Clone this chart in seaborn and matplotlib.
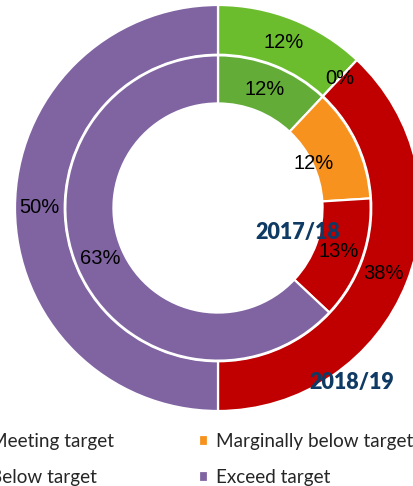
import numpy as np
import matplotlib
matplotlib.use("Agg")
import matplotlib.pyplot as plt
import seaborn as sns

categories = ["Meeting target", "Marginally below target", "Below target", "Exceed target"]
outer_2018 = [12, 0, 38, 50]   # 2018/19
inner_2017 = [12, 12, 13, 63]  # 2017/18
outer_colors = ["#6bbd2e", "#f7921e", "#c00000", "#8064a2"]
inner_colors = ["#62ac37", "#f7921e", "#c00000", "#8064a2"]

sns.set_style("white")
plt.rcParams["font.family"] = ["Liberation Sans", "DejaVu Sans"]

fig = plt.figure(figsize=(4.14, 4.86), dpi=100)
W, H = 414, 486
cx, cy, R = 218, 208, 203
ax = fig.add_axes([(cx - R) / W, (H - cy - R) / H, 2 * R / W, 2 * R / H])

edge = dict(edgecolor="white", linewidth=1.6)
w_out, _ = ax.pie(outer_2018, radius=1.0, colors=outer_colors, startangle=90,
                  counterclock=False, wedgeprops=dict(width=0.245, **edge))
w_in, _ = ax.pie(inner_2017, radius=0.752, colors=inner_colors, startangle=90,
                 counterclock=False, wedgeprops=dict(width=0.237, **edge))
ax.set_xlim(-1, 1)
ax.set_ylim(-1, 1)
ax.set_aspect("equal")
ax.axis("off")


def put_labels(wedges, values, r, overrides=None):
    overrides = overrides or {}
    for i, (w, v) in enumerate(zip(wedges, values)):
        ang = np.deg2rad((w.theta1 + w.theta2) / 2)
        rr = overrides.get(i, r)
        ax.text(rr * np.cos(ang), rr * np.sin(ang), f"{v}%", ha="center",
                va="center", fontsize=14.5, color="black",
                family="Liberation Sans")


put_labels(w_out, outer_2018, 0.878)
put_labels(w_in, inner_2017, 0.63, overrides={1: 0.52})

navy = "#0f3a63"
fig.text(298 / W, 1 - 232 / H, "2017/18", ha="center", va="center",
         fontsize=15.5, fontweight="heavy", color=navy, family="Lato")
fig.text(352 / W, 1 - 382 / H, "2018/19", ha="center", va="center",
         fontsize=15.5, fontweight="heavy", color=navy, family="Lato")

order = [0, 2, 1, 3]
fig.legend([w_out[i] for i in order], [categories[i] for i in order],
           loc="upper left", bbox_to_anchor=(-44 / W, 1 - 416 / H), ncol=2,
           frameon=False, handlelength=0.5, handleheight=0.5,
           handletextpad=0.4, columnspacing=4.48, labelspacing=1.0,
           prop=dict(family="Lato", size=13.6))

fig.savefig("out.png", dpi=100)
